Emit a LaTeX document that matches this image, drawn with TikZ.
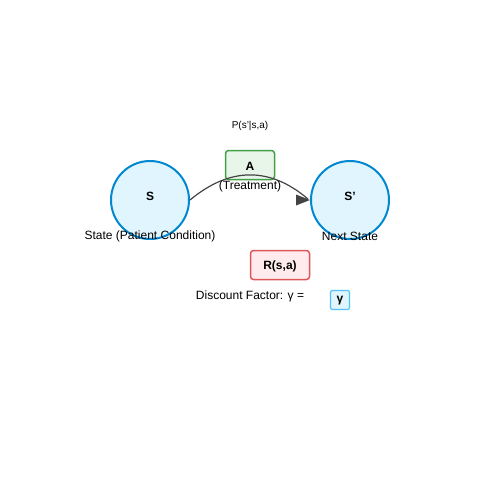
\documentclass[tikz,border=0pt]{standalone}
\usepackage{fontspec}
\setmainfont{Liberation Sans}
\usetikzlibrary{arrows.meta,calc}
\definecolor{sblue}{HTML}{0288D1}
\definecolor{sfill}{HTML}{E1F5FE}
\definecolor{agreen}{HTML}{43A047}
\definecolor{afill}{HTML}{E8F5E9}
\definecolor{rred}{HTML}{E05555}
\definecolor{rfill}{HTML}{FFEBEE}
\definecolor{gblue}{HTML}{4FC3F7}
\definecolor{edgec}{HTML}{444444}
\begin{document}
\begin{tikzpicture}[x=1pt,y=-1pt,
  statenode/.style={circle,draw=sblue,fill=sfill,line width=2pt,minimum size=78pt,inner sep=0pt},
  boxA/.style={draw=agreen,fill=afill,line width=1.5pt,rounded corners=3pt,minimum width=49pt,minimum height=29pt,inner sep=0pt},
  boxR/.style={draw=rred,fill=rfill,line width=1.5pt,rounded corners=3pt,minimum width=59pt,minimum height=29pt,inner sep=0pt},
  boxG/.style={draw=gblue,fill=sfill,line width=1.2pt,rounded corners=2pt,minimum width=19pt,minimum height=19pt,inner sep=0pt},
  lbl/.style={font=\fontsize{12}{14}\selectfont,inner sep=0pt},
  blbl/.style={font=\fontsize{12}{14}\selectfont\bfseries,inner sep=0pt},
  small/.style={font=\fontsize{10}{12}\selectfont,inner sep=0pt}]
\useasboundingbox (0,0) rectangle (500,500);
\node[statenode] (s) at (150,200) {};
\node[statenode] (sp) at (350,200) {};
\node[boxA] (a) at (250,165) {};
\node[boxR] (r) at (280,265) {};
\node[boxG] (g) at (340,300) {};
\draw[edgec,line width=1.2pt] (s.east) .. controls (230,166.7) and (270,166.7) .. ($(sp.west)+(-2,-1)$);
\fill[edgec] (sp.west) -- ++(-14,-5.5) -- ++(0,11) -- cycle;
\node[small] (p) at (250,126) {P(s'|s,a)};
\node[blbl] (at) at (250,166) {A};
\node[lbl] (tr) at (250,186) {(Treatment)};
\node[blbl] (st) at (150,196) {S};
\node[blbl] (spt) at (350,196) {S'};
\node[lbl] (sl) at (150,236) {State (Patient Condition)};
\node[lbl] (nl) at (350,236) {Next State};
\node[blbl] (rt) at (280,266) {R(s,a)};
\node[lbl] (dl) at (250,296) {Discount Factor: γ =};
\node[blbl] (gt) at (340,301) {γ};
\end{tikzpicture}
\end{document}
